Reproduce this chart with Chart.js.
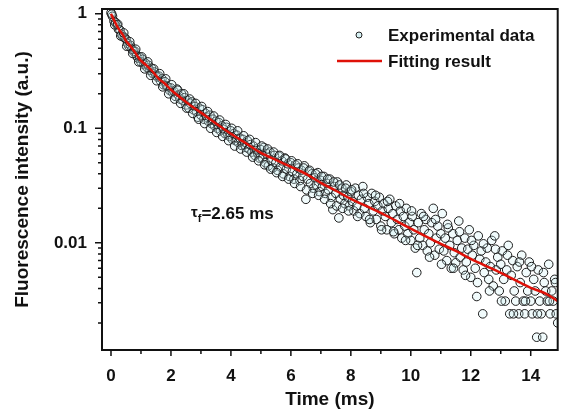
<!DOCTYPE html>
<html>
<head>
<meta charset="utf-8">
<script src="https://cdn.jsdelivr.net/npm/chart.js@4/dist/chart.umd.min.js"></script>
<style>
  html, body { margin: 0; padding: 0; background: #fff; }
  canvas { display: block; }
</style>
</head>
<body>
<canvas id="Grafico" width="563" height="415"></canvas>
<script>
'use strict';
const expTime = [
  0.00,0.05,0.10,0.15,0.20,0.25,0.30,0.35,0.40,0.45,0.50,0.55,0.60,0.65,0.70,0.75,0.80,0.85,0.90,0.95,
  1.00,1.05,1.10,1.15,1.20,1.25,1.30,1.35,1.40,1.45,1.50,1.55,1.60,1.65,1.70,1.75,1.80,1.85,1.90,1.95,
  2.00,2.05,2.10,2.15,2.20,2.25,2.30,2.35,2.40,2.45,2.50,2.55,2.60,2.65,2.70,2.75,2.80,2.85,2.90,2.95,
  3.00,3.05,3.10,3.15,3.20,3.25,3.30,3.35,3.40,3.45,3.50,3.55,3.60,3.65,3.70,3.75,3.80,3.85,3.90,3.95,
  4.00,4.05,4.10,4.15,4.20,4.25,4.30,4.35,4.40,4.45,4.50,4.55,4.60,4.65,4.70,4.75,4.80,4.85,4.90,4.95,
  5.00,5.05,5.10,5.15,5.20,5.25,5.30,5.35,5.40,5.45,5.50,5.55,5.60,5.65,5.70,5.75,5.80,5.85,5.90,5.95,
  6.00,6.05,6.10,6.15,6.20,6.25,6.30,6.35,6.40,6.45,6.50,6.55,6.60,6.65,6.70,6.75,6.80,6.85,6.90,6.95,
  7.00,7.05,7.10,7.15,7.20,7.25,7.30,7.35,7.40,7.45,7.50,7.55,7.60,7.65,7.70,7.75,7.80,7.85,7.90,7.95,
  8.00,8.05,8.10,8.15,8.20,8.25,8.30,8.35,8.40,8.45,8.50,8.55,8.60,8.65,8.70,8.75,8.80,8.85,8.90,8.95,
  9.00,9.05,9.10,9.15,9.20,9.25,9.30,9.35,9.40,9.45,9.50,9.55,9.60,9.65,9.70,9.75,9.80,9.85,9.90,9.95,
  10.00,10.05,10.10,10.15,10.20,10.25,10.30,10.35,10.40,10.45,10.50,10.55,10.60,10.65,10.70,10.75,10.80,10.85,10.90,10.95,
  11.00,11.05,11.10,11.15,11.20,11.25,11.30,11.35,11.40,11.45,11.50,11.55,11.60,11.65,11.70,11.75,11.80,11.85,11.90,11.95,
  12.00,12.05,12.10,12.15,12.20,12.25,12.30,12.35,12.40,12.45,12.50,12.55,12.60,12.65,12.70,12.75,12.80,12.85,12.90,12.95,
  13.00,13.05,13.10,13.15,13.20,13.25,13.30,13.35,13.40,13.45,13.50,13.55,13.60,13.65,13.70,13.75,13.80,13.85,13.90,13.95,
  14.00,14.05,14.10,14.15,14.20,14.25,14.30,14.35,14.40,14.45,14.50,14.55,14.60,14.65,14.70,14.75,14.80,14.85,14.90,
  // second pass, in between
  0.025,0.125,0.225,0.325,0.425,0.525,0.625,0.725,0.825,0.925,1.025,1.125,1.225,1.325,1.425,1.525,1.625,1.725,1.825,1.925,
  2.025,2.125,2.225,2.325,2.425,2.525,2.625,2.725,2.825,2.925,3.025,3.125,3.225,3.325,3.425,3.525,3.625,3.725,3.825,3.925,
  4.025,4.125,4.225,4.325,4.425,4.525,4.625,4.725,4.825,4.925,5.025,5.125,5.225,5.325,5.425,5.525,5.625,5.725,5.825,5.925,
  6.025,6.125,6.225,6.325,6.425,6.525,6.625,6.725,6.825,6.925,7.025,7.125,7.225,7.325,7.425,7.525,7.625,7.725,7.825,7.925,
  8.025,8.225,8.425,8.625,8.825,9.025,9.225,9.425,9.625,9.825,10.025,10.225,10.425,10.625,10.825,11.025,11.225,11.425,11.625,11.825,
  12.025,12.225,12.425,12.625,12.825,13.025,13.225,13.425,13.625,13.825,14.025,14.225,14.425,14.625,14.825
];
const expIntensity = [
  1.02,0.95,0.86,0.84,0.80,0.73,0.72,0.66,0.63,0.62,0.60,0.55,0.52,0.53,0.49,0.47,0.47,0.43,0.41,0.42,
  0.38,0.40,0.36,0.37,0.34,0.355,0.32,0.335,0.30,0.31,0.29,0.28,0.285,0.26,0.27,0.24,0.255,0.235,0.23,0.215,
  0.225,0.205,0.21,0.19,0.22,0.195,0.18,0.20,0.175,0.185,0.16,0.175,0.15,0.165,0.17,0.145,0.155,0.14,0.125,0.15,
  0.13,0.145,0.12,0.135,0.125,0.115,0.13,0.11,0.12,0.105,0.115,0.10,0.112,0.095,0.105,0.098,0.09,0.102,0.088,0.085,
  0.095,0.08,0.09,0.078,0.087,0.075,0.082,0.071,0.08,0.072,0.068,0.078,0.066,0.072,0.062,0.07,0.058,0.066,0.06,0.055,
  0.065,0.055,0.068,0.05,0.06,0.047,0.062,0.052,0.045,0.058,0.05,0.043,0.057,0.046,0.052,0.04,0.055,0.044,0.049,0.038,
  0.05,0.042,0.036,0.048,0.04,0.045,0.035,0.043,0.038,0.047,0.024,0.036,0.042,0.033,0.04,0.03,0.037,0.032,0.041,0.028,
  0.035,0.031,0.038,0.027,0.033,0.029,0.036,0.025,0.0195,0.031,0.027,0.034,0.0165,0.024,0.03,0.026,0.022,0.032,0.025,0.021,
  0.028,0.023,0.019,0.03,0.021,0.026,0.018,0.024,0.031,0.02,0.017,0.025,0.022,0.015,0.027,0.019,0.023,0.016,0.021,0.025,
  0.014,0.019,0.022,0.017,0.013,0.02,0.024,0.015,0.018,0.012,0.021,0.016,0.013,0.019,0.011,0.017,0.014,0.02,0.012,0.015,
  0.0105,0.017,0.013,0.009,0.0055,0.015,0.011,0.018,0.0095,0.013,0.016,0.0085,0.012,0.01,0.015,0.02,0.0078,0.011,0.014,0.0088,
  0.012,0.018,0.0085,0.011,0.007,0.0135,0.0095,0.006,0.012,0.0082,0.0067,0.0105,0.0155,0.0075,0.009,0.0058,0.011,0.0068,0.0088,0.013,
  0.005,0.0078,0.0095,0.006,0.0034,0.0115,0.0072,0.0085,0.0024,0.0055,0.0068,0.009,0.0048,0.0062,0.0105,0.0042,0.0115,0.0058,0.0075,0.0038,
  0.0065,0.0085,0.0048,0.0031,0.0058,0.0095,0.0024,0.0052,0.007,0.0038,0.0031,0.0062,0.0024,0.0045,0.0078,0.0031,0.0024,0.0055,0.0038,0.0068,
  0.0031,0.0024,0.0048,0.0038,0.0015,0.0058,0.0031,0.0024,0.0015,0.0045,0.0038,0.0031,0.0065,0.0024,0.0038,0.0031,0.0048,0.0024,0.002,
  // second pass, in between
  0.99,0.80,0.81,0.64,0.68,0.52,0.57,0.45,0.49,0.38,0.42,0.33,0.38,0.29,0.33,0.26,0.30,0.23,0.27,0.20,
  0.24,0.18,0.215,0.165,0.20,0.15,0.18,0.135,0.165,0.12,0.155,0.11,0.14,0.10,0.128,0.092,0.118,0.085,0.108,0.078,
  0.10,0.07,0.095,0.066,0.086,0.062,0.08,0.056,0.075,0.052,0.07,0.048,0.066,0.044,0.062,0.041,0.058,0.038,0.054,0.036,
  0.052,0.033,0.049,0.031,0.045,0.029,0.043,0.027,0.04,0.026,0.038,0.024,0.036,0.022,0.034,0.021,0.032,0.02,0.03,0.019,
  0.029,0.017,0.027,0.016,0.026,0.013,0.023,0.0125,0.022,0.0105,0.019,0.0095,0.017,0.0075,0.016,0.0065,0.0145,0.006,0.0125,0.0052,
  0.0105,0.0045,0.0098,0.0038,0.0088,0.0031,0.0078,0.0024,0.0068,0.0031,0.0062,0.0024,0.0055,0.0031,0.0045
];
// fitted curve
const fitTime = [0,0.1,0.2,0.3,0.4,0.5,0.6,0.7,0.8,0.9,1.0,1.2,1.4,1.6,1.8,2.0,2.5,3.0,3.5,4.0,4.5,5.0,5.5,6.0,6.5,7.0,7.5,8.0,8.5,9.0,9.5,10,10.5,11,11.5,12,12.5,13,13.5,14,14.5,14.9];
const fitIntensity = [1.0,0.88,0.78,0.71,0.65,0.58,0.54,0.50,0.46,0.42,0.39,0.35,0.31,0.27,0.245,0.217,0.17,0.137,0.11,0.0895,0.074,0.061,0.053,0.046,0.040,0.0334,0.0285,0.0242,0.021,0.0183,0.0156,0.0133,0.0114,0.0098,0.0085,0.00725,0.0063,0.00547,0.0047,0.00405,0.0036,0.0031];

const xTickValues = [0,1,2,3,4,5,6,7,8,9,10,11,12,13,14];
const xTickLabels = ['0','','2','','4','','6','','8','','10','','12','','14'];
const yTickValues = [0.002,0.003,0.004,0.005,0.006,0.007,0.008,0.009,
                     0.01,0.02,0.03,0.04,0.05,0.06,0.07,0.08,0.09,
                     0.1,0.2,0.3,0.4,0.5,0.6,0.7,0.8,0.9,1];
const yTickLabels = {0.01: '0.01', 0.1: '0.1', 1: '1'};

const FONT = "'Liberation Sans', Arial, sans-serif";

const decor = {
  id: 'decor',
  afterDraw(chart) {
    const {ctx, chartArea: a, scales: {x, y}} = chart;
    ctx.save();
    ctx.strokeStyle = '#111';
    ctx.lineWidth = 2;
    ctx.strokeRect(a.left, a.top, a.right - a.left, a.bottom - a.top);
    // ticks outward
    ctx.lineWidth = 1.5;
    ctx.beginPath();
    x.ticks.forEach((t, i) => {
      const px = x.getPixelForValue(t.value);
      const len = xTickLabels[i] ? 6 : 4;
      ctx.moveTo(px, a.bottom); ctx.lineTo(px, a.bottom + len);
    });
    y.ticks.forEach(t => {
      const py = y.getPixelForValue(t.value);
      const len = yTickLabels[t.value] ? 7 : 4;
      ctx.moveTo(a.left, py); ctx.lineTo(a.left - len, py);
    });
    ctx.stroke();

    // legend
    const ds = chart.data.datasets;
    ctx.font = 'bold 17px ' + FONT;
    ctx.textBaseline = 'middle';
    ctx.textAlign = 'left';
    ctx.beginPath();
    ctx.arc(359, 35, 3, 0, Math.PI * 2);
    ctx.fillStyle = 'rgba(205,238,240,0.8)';
    ctx.fill();
    ctx.lineWidth = 1;
    ctx.strokeStyle = '#222';
    ctx.stroke();
    ctx.fillStyle = '#111';
    ctx.fillText(ds[1].label, 388, 36);
    ctx.strokeStyle = ds[0].borderColor;
    ctx.lineWidth = 2.5;
    ctx.beginPath();
    ctx.moveTo(337, 61); ctx.lineTo(382, 61);
    ctx.stroke();
    ctx.fillText(ds[0].label, 388, 62);

    // lifetime note
    const nx = x.getPixelForValue(2.67), ny = y.getPixelForValue(0.0179);
    ctx.font = 'bold 15px ' + FONT;
    ctx.fillText('τ', nx, ny - 1);
    let w = ctx.measureText('τ').width;
    ctx.font = 'bold 11px ' + FONT;
    ctx.fillText('f', nx + w, ny + 5);
    w += ctx.measureText('f').width;
    ctx.font = 'bold 17px ' + FONT;
    ctx.fillText('=2.65 ms', nx + w, ny);
    ctx.restore();
  }
};

new Chart(document.getElementById('Grafico'), {
  type: 'scatter',
  data: {
    datasets: [{
      label: 'Fitting result',
      type: 'line',
      data: fitTime.map((t, i) => ({x: t, y: fitIntensity[i]})),
      borderColor: '#df1108',
      borderWidth: 2.5,
      pointRadius: 0,
      cubicInterpolationMode: 'monotone',
      fill: false,
      order: 0
    }, {
      label: 'Experimental data',
      data: expTime.map((t, i) => ({x: t, y: expIntensity[i]})),
      pointRadius: 4.3,
      borderWidth: 1,
      borderColor: '#1c1c1c',
      backgroundColor: 'rgba(200,238,242,0.25)',
      order: 1
    }]
  },
  options: {
    responsive: false,
    animation: false,
    layout: { padding: { top: 9, right: 1, left: 0, bottom: 0 } },
    plugins: { legend: { display: false }, tooltip: { enabled: false } },
    scales: {
      x: {
        type: 'linear',
        min: -0.3,
        max: 14.9,
        afterFit: s => { s.height = 65; s.paddingLeft = 0; s.paddingRight = 0; },
        afterBuildTicks: s => { s.ticks = xTickValues.map(v => ({value: v})); },
        grid: { display: false },
        border: { display: false },
        ticks: {
          autoSkip: false,
          maxRotation: 0,
          padding: 8,
          color: '#111',
          font: { family: FONT, size: 17, weight: 'bold' },
          callback: (v, i) => xTickLabels[i]
        },
        title: {
          display: true,
          text: 'Time (ms)',
          color: '#111',
          padding: 4,
          font: { family: FONT, size: 19, weight: 'bold' }
        }
      },
      y: {
        type: 'logarithmic',
        min: 0.00116,
        max: 1.1,
        afterFit: s => { s.width = 102; s.paddingTop = 0; s.paddingBottom = 0; },
        afterBuildTicks: s => { s.ticks = yTickValues.map(v => ({value: v})); },
        grid: { display: false },
        border: { display: false },
        ticks: {
          autoSkip: false,
          padding: 7,
          color: '#111',
          font: { family: FONT, size: 17, weight: 'bold' },
          callback: v => yTickLabels[v] || ''
        },
        title: {
          display: true,
          text: 'Fluorescence intensity (a.u.)',
          color: '#111',
          padding: 11,
          font: { family: FONT, size: 19, weight: 'bold' }
        }
      }
    }
  },
  plugins: [decor]
});
</script>
</body>
</html>
